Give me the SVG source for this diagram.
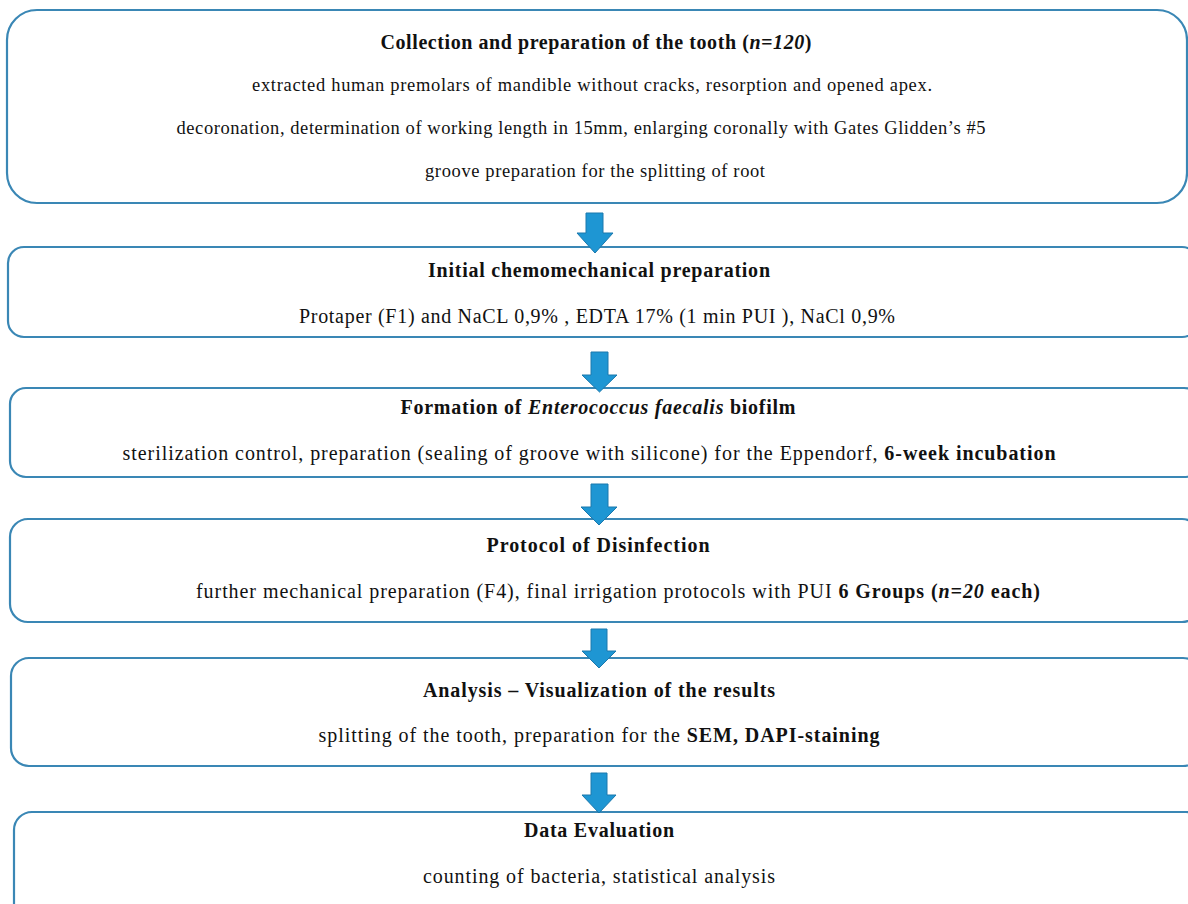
<svg xmlns="http://www.w3.org/2000/svg" width="1188" height="904" viewBox="0 0 1188 904">
<style>
.box{fill:#ffffff;stroke:#3a87b5;stroke-width:2.2}
.arrow{fill:#1e96d3;stroke:#1a78ad;stroke-width:1}
text{font-family:"Liberation Serif","Times New Roman",serif;fill:#111111;text-anchor:middle}
.t{font-weight:bold;font-size:20px}
.b{font-size:20px}
.s{font-size:18.5px}
</style>
<rect width="1188" height="904" fill="#ffffff"/>
<g id="node1">
<rect class="box" x="7" y="10" width="1180" height="193" rx="30" ry="30"/>
<text class="t" x="596" y="49" textLength="431">Collection and preparation of the tooth (<tspan font-style="italic">n=120</tspan>)</text>
<text class="s" x="592" y="91" textLength="680">extracted human premolars of mandible without cracks, resorption and opened apex.</text>
<text class="s" x="581" y="134" textLength="809">decoronation, determination of  working length in 15mm, enlarging coronally with Gates Glidden’s #5</text>
<text class="s" x="595" y="177" textLength="340">groove preparation for the splitting of root</text>
</g>
<g id="node2">
<rect class="box" x="8" y="247" width="1190" height="90" rx="16" ry="16"/>
<text class="t" x="599" y="277" textLength="342">Initial chemomechanical preparation</text>
<text class="b" x="597" y="323" textLength="596">Protaper (F1) and NaCL 0,9% , EDTA 17% (1 min PUI ), NaCl 0,9%</text>
</g>
<g id="node3">
<rect class="box" x="10" y="388" width="1190" height="89" rx="16" ry="16"/>
<text class="t" x="598" y="414" textLength="395">Formation of <tspan font-style="italic">Enterococcus faecalis</tspan> biofilm</text>
<text class="b" x="589" y="460" textLength="933">sterilization control, preparation (sealing of groove with silicone) for the Eppendorf, <tspan font-weight="bold">6-week incubation</tspan></text>
</g>
<g id="node4">
<rect class="box" x="10" y="519" width="1190" height="103" rx="18" ry="18"/>
<text class="t" x="598" y="552" textLength="223">Protocol of Disinfection</text>
<text class="b" x="618" y="598" textLength="844">further mechanical preparation (F4), final irrigation protocols with PUI <tspan font-weight="bold">6 Groups  (<tspan font-style="italic">n=20</tspan> each)</tspan></text>
</g>
<g id="node5">
<rect class="box" x="11" y="658" width="1190" height="108" rx="18" ry="18"/>
<text class="t" x="599" y="697" textLength="352">Analysis – Visualization of the results</text>
<text class="b" x="599" y="742" textLength="561">splitting of the tooth, preparation for the <tspan font-weight="bold">SEM, DAPI-staining</tspan></text>
</g>
<g id="node6">
<rect class="box" x="14" y="812" width="1190" height="110" rx="18" ry="18"/>
<text class="t" x="599" y="837" textLength="150">Data Evaluation</text>
<text class="b" x="599" y="883" textLength="352">counting of bacteria, statistical analysis</text>
</g>
<g id="connectors">
<polygon class="arrow" points="586,213 603,213 603,233 613,233 595,253 577,233 586,233"/>
<polygon class="arrow" points="591,352 608,352 608,375 617,375 599.5,392 582,375 591,375"/>
<polygon class="arrow" points="591,484 608,484 608,507 617,507 599,525 581,507 591,507"/>
<polygon class="arrow" points="591,629 607,629 607,651 616,651 599,668 582,651 591,651"/>
<polygon class="arrow" points="591,773 607,773 607,795 616,795 599,813 582,795 591,795"/>
</g>
</svg>
